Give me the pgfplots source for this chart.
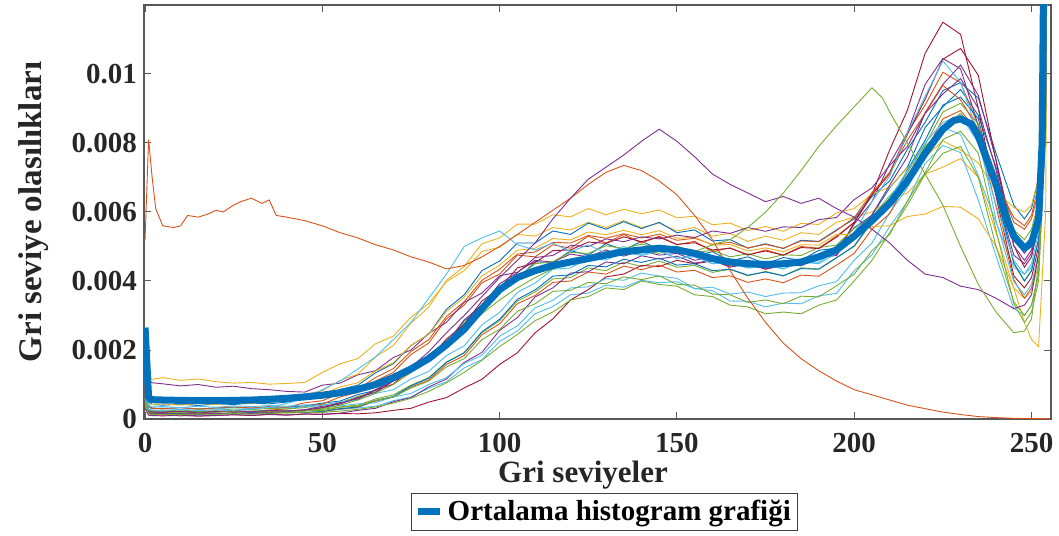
\documentclass[border=0pt]{standalone}
\usepackage{fontspec}
\setmainfont{Liberation Serif}
\usepackage{pgfplots}
\pgfplotsset{compat=1.18}
\definecolor{c1}{HTML}{0072BD}
\definecolor{c2}{HTML}{D95319}
\definecolor{c3}{HTML}{EDB120}
\definecolor{c4}{HTML}{7E2F8E}
\definecolor{c5}{HTML}{77AC30}
\definecolor{c6}{HTML}{4DBEEE}
\definecolor{c7}{HTML}{A2142F}
\pgfplotsset{
 indiv/.style={line width=0.45pt},
 meanleg/.style={legend image code/.code={\draw[##1] (0pt,0pt) -- (11pt,0pt);}},
}
\begin{document}
\begin{tikzpicture}
\useasboundingbox (-72pt,-58pt) rectangle (457.5pt,209.5pt);
\begin{axis}[
 scale only axis, width=453.5pt, height=207pt,
 xmin=-0.3, xmax=255.5, ymin=0, ymax=120,
 xtick={0,50,100,150,200,250}, xticklabels={0,50,100,150,200,250},
 ytick={0,20,40,60,80,100}, yticklabels={0,0.002,0.004,0.006,0.008,0.01},
 tick align=inside, major tick length=3.5pt,
 axis line style={draw=black!65, line width=0.6pt},
 tick style={draw=black!65, line width=0.5pt},
 ticklabel style={font=\fontsize{14.5}{15}\selectfont\bfseries, text=black!85},
 xticklabel style={yshift=-3.5pt},
 xlabel={Gri seviyeler}, ylabel={Gri seviye olasılıkları},
 xlabel style={font=\fontsize{15.5}{16}\selectfont\bfseries, text=black!85, at={(axis description cs:0.484,-0.135)}, anchor=center},
 ylabel style={font=\fontsize{16.5}{17}\selectfont\bfseries, text=black!85, at={(axis description cs:-0.1215,0.5)}, anchor=center},
 legend style={at={(axis description cs:0.508,-0.2246)}, anchor=center, draw=black!75, line width=0.5pt, font=\fontsize{14.5}{15}\selectfont\bfseries, inner sep=1.5pt},
 legend cell align=left,
]
% ---- individual histograms (units of 1e-4) ----
\addplot[indiv,c1,forget plot] coordinates {(0,20)(1,4)(2,3.2)(5,3)(10,3.3)(15,2.9)(20,3.2)(25,3.4)(30,3.1)(35,3.5)(40,3.4)(45,3.8)(50,4.6)(55,5.2)(60,7.1)(65,8.3)(70,11.5)(75,13.8)(80,18.6)(85,21.5)(90,28.5)(95,31.8)(100,38.2)(105,40.5)(110,45.6)(115,45.2)(120,48.8)(125,47.5)(130,50.8)(135,49)(140,51.5)(145,49.2)(150,50)(155,47.2)(160,48.5)(165,45.8)(170,47)(175,45)(180,46.8)(185,46)(190,48.9)(195,49.5)(200,55.5)(205,59)(210,67)(215,73)(220,84.5)(225,90.5)(230,95.5)(235,88)(240,73)(245,54.5)(248,50)(250,53)(252,62)(254,105)(255,250)};
\addplot[indiv,c2,forget plot] coordinates {(0,10)(1,2.5)(2,2)(5,2.1)(10,1.8)(15,2.2)(20,2)(25,2.4)(30,2.2)(35,2.6)(40,2.9)(45,3.7)(50,4.3)(55,6.4)(60,7.7)(65,11)(70,13.5)(75,18.7)(80,22)(85,29)(90,33)(95,39.5)(100,42)(105,47.5)(110,47)(115,50.5)(120,49.5)(125,53)(130,51)(135,53.5)(140,51)(145,53)(150,50.5)(155,51.5)(160,48.5)(165,49.6)(170,47.5)(175,49)(180,47.5)(185,50)(190,49.5)(195,53)(200,57)(205,65.5)(210,71.5)(215,83)(220,91)(225,100.5)(230,97.5)(235,85)(240,70.5)(245,57)(248,55)(250,58)(252,66)(254,110)(255,250)};
\addplot[indiv,c3,forget plot] coordinates {(0,12)(1,12.5)(2,11.5)(5,12)(10,11.2)(15,11.6)(20,10.8)(25,10.4)(30,10.6)(35,10.1)(40,10.3)(45,10.6)(50,13.5)(55,16)(60,17.5)(65,21.8)(70,24)(75,29.5)(80,33.5)(85,39.8)(90,43)(95,48.5)(100,49.8)(105,53.5)(110,53)(115,55.5)(120,54.8)(125,57)(130,55.5)(135,57.5)(140,55.5)(145,56.8)(150,54.5)(155,55.5)(160,53)(165,53.8)(170,51.5)(175,53)(180,51.8)(185,54)(190,53.5)(195,57)(200,58.5)(205,60)(210,63.5)(215,65.5)(220,71)(225,73)(230,75.5)(235,70)(240,54)(245,38)(248,35)(250,37)(252,45)(254,90)(255,250)};
\addplot[indiv,c4,forget plot] coordinates {(0,15)(1,11)(2,10.5)(5,10.2)(10,9.6)(15,10)(20,9.2)(25,9.5)(30,8.8)(35,8.5)(40,8)(45,7.8)(50,9.8)(55,10.4)(60,12.8)(65,14)(70,17.8)(75,20)(80,24.8)(85,28)(90,33.8)(95,36.5)(100,41.5)(105,42.5)(110,46)(115,45.5)(120,47.8)(125,47)(130,49)(135,47.2)(140,48.8)(145,47.5)(150,48)(155,46)(160,47)(165,45)(170,46)(175,44.5)(180,45.8)(185,45.5)(190,47.8)(195,48.5)(200,56.5)(205,63)(210,74)(215,83)(220,97)(225,104.5)(230,101.5)(235,85)(240,65.5)(245,47.5)(248,45)(250,48)(252,57)(254,100)(255,250)};
\addplot[indiv,c5,forget plot] coordinates {(0,8)(1,2)(2,1.8)(5,1.9)(10,2.1)(15,1.8)(20,2.2)(25,2)(30,2.3)(35,2.1)(40,2.5)(45,2.4)(50,2.8)(55,3.5)(60,4)(65,5.8)(70,7)(75,9.8)(80,12)(85,16.5)(90,19.2)(95,25)(100,28.5)(105,34.2)(110,36.8)(115,40.6)(120,41)(125,43.8)(130,43)(135,45.5)(140,44.2)(145,45.8)(150,44)(155,44.5)(160,42.5)(165,43.4)(170,41.5)(175,42.8)(180,41.5)(185,43.8)(190,43.5)(195,46.8)(200,50)(205,57)(210,61.5)(215,71.5)(220,79.5)(225,89)(230,91.5)(235,85.5)(240,65)(245,45)(248,40)(250,43)(252,52)(254,95)(255,250)};
\addplot[indiv,c6,forget plot] coordinates {(0,6)(1,2.4)(2,2.1)(5,2.2)(10,1.9)(15,2.3)(20,2.1)(25,2.4)(30,2.2)(35,2.5)(40,2.3)(45,2.6)(50,2.5)(55,2.8)(60,3.2)(65,3.7)(70,5.3)(75,6.4)(80,8.9)(85,10.8)(90,14.8)(95,17.2)(100,22.5)(105,25.5)(110,30.5)(115,32.6)(120,36)(125,36.5)(130,38.8)(135,38.2)(140,40.2)(145,39.5)(150,39.8)(155,37.8)(160,38.2)(165,36.2)(170,36.8)(175,35.5)(180,36.5)(185,36.6)(190,38.6)(195,39.8)(200,46)(205,51)(210,59.8)(215,67)(220,78.5)(225,84.5)(230,82.5)(235,70.5)(240,57)(245,44)(248,42)(250,44)(252,52)(254,95)(255,250)};
\addplot[indiv,c7,forget plot] coordinates {(0,4)(1,1.2)(2,1)(5,0.9)(10,1.1)(15,0.8)(20,1)(25,1.2)(30,1)(35,1.3)(40,1.1)(45,1.4)(50,1.3)(55,1.6)(60,1.5)(65,1.8)(70,2.5)(75,3.1)(80,4.9)(85,6.2)(90,9)(95,11.5)(100,15.8)(105,19.2)(110,25)(115,29)(120,34.5)(125,37.5)(130,41.2)(135,42)(140,44.5)(145,44.2)(150,46)(155,45)(160,45.8)(165,44.3)(170,45)(175,43.5)(180,44.5)(185,44.6)(190,46.8)(195,47.5)(200,57)(205,65)(210,78)(215,89.5)(220,106)(225,115)(230,111.5)(235,90)(240,64.5)(245,41.5)(248,38)(250,41)(252,50)(254,95)(255,250)};
\addplot[indiv,c1,forget plot] coordinates {(0,25)(1,5)(2,4.2)(5,4)(10,4.3)(15,3.9)(20,4.4)(25,4.2)(30,4.6)(35,4.4)(40,4.9)(45,5.8)(50,6.3)(55,8.6)(60,9.8)(65,13.4)(70,16)(75,21.3)(80,24.6)(85,31.8)(90,36)(95,43)(100,45.8)(105,51)(110,51)(115,54.5)(120,53.5)(125,56.8)(130,55)(135,57.2)(140,55.2)(145,57)(150,54)(155,54.8)(160,51.6)(165,52)(170,49.5)(175,50.8)(180,49.4)(185,51.8)(190,51.5)(195,54.8)(200,58)(205,64.5)(210,69)(215,78.2)(220,86)(225,95.2)(230,97.5)(235,93)(240,77)(245,62)(248,58)(250,61)(252,70)(254,115)(255,250)};
\addplot[indiv,c2,forget plot] coordinates {(0,5)(1,1.7)(2,1.5)(5,1.4)(10,1.6)(15,1.3)(20,1.6)(25,1.5)(30,1.8)(35,1.6)(40,1.9)(45,1.8)(50,2.1)(55,2.9)(60,3.4)(65,5.2)(70,6.3)(75,9.2)(80,11.3)(85,15.8)(90,18.4)(95,24.4)(100,27.6)(105,33.4)(110,35.8)(115,39.6)(120,40)(125,42.6)(130,42)(135,44.3)(140,43.3)(145,44.6)(150,42.6)(155,43.1)(160,41)(165,41.5)(170,39.6)(175,40.6)(180,39.5)(185,41.7)(190,41.4)(195,44.6)(200,48)(205,55)(210,59.5)(215,69.2)(220,77.3)(225,87)(230,89.4)(235,83)(240,61.5)(245,40.4)(248,35)(250,38)(252,47)(254,90)(255,250)};
\addplot[indiv,c3,forget plot] coordinates {(0,9)(1,4.5)(2,4.2)(5,4.4)(10,4)(15,4.5)(20,4.2)(25,4.7)(30,4.5)(35,5)(40,5.5)(45,7.1)(50,8.2)(55,11.2)(60,13)(65,18)(70,21.3)(75,27.8)(80,32.4)(85,40.2)(90,44.2)(95,50.8)(100,52.5)(105,56.5)(110,56.5)(115,59.2)(120,58.6)(125,61)(130,59.2)(135,60.8)(140,59.5)(145,60.6)(150,58.3)(155,58.8)(160,56.3)(165,56.8)(170,54.6)(175,55.8)(180,54.4)(185,56.7)(190,56.4)(195,59.7)(200,61)(205,65.2)(210,67.2)(215,72.8)(220,76)(225,80.6)(230,78)(235,74.2)(240,66)(245,61.3)(248,60)(250,62)(252,70)(254,115)(255,250)};
\addplot[indiv,c4,forget plot] coordinates {(0,3)(1,1.1)(2,1)(5,1.2)(10,0.9)(15,1.1)(20,1)(25,1.3)(30,1.1)(35,1.4)(40,1.2)(45,1.5)(50,1.4)(55,1.7)(60,2.5)(65,3.1)(70,5)(75,6.2)(80,9.3)(85,11.6)(90,16.4)(95,19.3)(100,25.7)(105,29.4)(110,35.4)(115,38)(120,42.3)(125,42.7)(130,45.5)(135,45)(140,47.3)(145,46.4)(150,47.2)(155,45.2)(160,46)(165,44)(170,45)(175,43.4)(180,44.7)(185,44.4)(190,46.8)(195,47.4)(200,54.2)(205,59.2)(210,67.8)(215,76)(220,88.8)(225,97)(230,102.6)(235,93.8)(240,75.2)(245,52.4)(248,48)(250,51)(252,60)(254,105)(255,250)};
\addplot[indiv,c5,forget plot] coordinates {(0,7)(1,2.8)(2,2.5)(5,2.6)(10,2.3)(15,2.7)(20,2.5)(25,2.9)(30,2.7)(35,3.1)(40,2.9)(45,3.3)(50,4.1)(55,4.7)(60,6.6)(65,7.9)(70,11)(75,13.5)(80,18.3)(85,21.5)(90,27.9)(95,31.8)(100,37.9)(105,41)(110,45)(115,45.6)(120,48.3)(125,48)(130,50.2)(135,49.4)(140,50.7)(145,49.5)(150,50.1)(155,48.2)(160,48.9)(165,47)(170,47.9)(175,46.4)(180,47.6)(185,47.4)(190,49.7)(195,50.4)(200,55.3)(205,58.5)(210,64.7)(215,70)(220,79)(225,84.4)(230,88.6)(235,82.4)(240,70.2)(245,54.8)(248,52)(250,55)(252,63)(254,108)(255,250)};
\addplot[indiv,c6,forget plot] coordinates {(0,11)(1,3.3)(2,3)(5,3.2)(10,2.8)(15,3.1)(20,2.9)(25,3.3)(30,3.1)(35,3.4)(40,3.2)(45,3.6)(50,3.4)(55,3.8)(60,4.4)(65,4.7)(70,6.4)(75,7.4)(80,10)(85,12)(90,16.1)(95,18.5)(100,24)(105,27)(110,32.2)(115,34.4)(120,38)(125,38.3)(130,40.7)(135,40.2)(140,42.3)(145,41.4)(150,40.8)(155,37.8)(160,37.2)(165,34.2)(170,34.1)(175,32.5)(180,33.6)(185,33.4)(190,35.7)(195,36.4)(200,43)(205,47.6)(210,55.8)(215,63)(220,74)(225,79.3)(230,77.2)(235,63.4)(240,47.2)(245,32)(248,30)(250,33)(252,42)(254,85)(255,250)};
\addplot[indiv,c7,forget plot] coordinates {(0,5)(1,2.3)(2,2)(5,1.9)(10,2.2)(15,1.8)(20,2.1)(25,2.3)(30,2)(35,2.4)(40,2.2)(45,2.6)(50,3.3)(55,4.8)(60,5.7)(65,8.4)(70,10.1)(75,14.6)(80,17.4)(85,23.2)(90,27.4)(95,34.2)(100,37.8)(105,43.8)(110,45.3)(115,48.8)(120,49)(125,51.3)(130,50.9)(135,52.8)(140,51.4)(145,52.7)(150,50.6)(155,51.1)(160,49)(165,49.5)(170,47.6)(175,48.7)(180,47.5)(185,49.7)(190,49.4)(195,52.7)(200,57)(205,65)(210,71)(215,82.5)(220,92.7)(225,104.3)(230,107.4)(235,99.6)(240,74.8)(245,50.3)(248,44)(250,47)(252,56)(254,100)(255,250)};
\addplot[indiv,c1,forget plot] coordinates {(0,14)(1,1.9)(2,1.6)(5,1.5)(10,1.7)(15,1.4)(20,1.7)(25,1.6)(30,1.9)(35,1.7)(40,2)(45,1.9)(50,2.2)(55,3)(60,3.5)(65,5.4)(70,6.5)(75,9.6)(80,11.8)(85,16.4)(90,19.2)(95,25.3)(100,28.9)(105,34.7)(110,37.4)(115,41.4)(120,41.8)(125,44.5)(130,44.1)(135,46.3)(140,45.4)(145,46.6)(150,44.6)(155,45)(160,43)(165,43.4)(170,41.7)(175,42.6)(180,41.5)(185,43.6)(190,43.4)(195,46.7)(200,50.2)(205,57.3)(210,62.2)(215,72.2)(220,80.8)(225,91)(230,93.3)(235,87.1)(240,65.8)(245,45.3)(248,40)(250,43)(252,52)(254,95)(255,250)};
\addplot[indiv,c2,forget plot] coordinates {(0,8)(1,3.4)(2,3.1)(5,3)(10,3.3)(15,2.9)(20,3.2)(25,3.5)(30,3.2)(35,3.6)(40,3.4)(45,4.7)(50,5.3)(55,7.4)(60,8.7)(65,12)(70,14.6)(75,19.6)(80,23)(85,29.7)(90,34)(95,40.2)(100,43.4)(105,47.8)(110,48.4)(115,51.2)(120,51)(125,53.2)(130,52.4)(135,53.7)(140,52.5)(145,53.6)(150,51.8)(155,52.4)(160,50.6)(165,51.2)(170,49.6)(175,50.6)(180,49.5)(185,51.6)(190,51.4)(195,54.6)(200,58.4)(205,65.6)(210,71)(215,80.8)(220,88.6)(225,96.7)(230,92.5)(235,84)(240,68.5)(245,58.4)(248,56)(250,59)(252,68)(254,112)(255,250)};
\addplot[indiv,c3,forget plot] coordinates {(0,10)(1,5.5)(2,5.2)(5,5.4)(10,5)(15,5.5)(20,5.2)(25,5.6)(30,5.3)(35,5.7)(40,5.5)(45,6.8)(50,7.2)(55,9.3)(60,10.5)(65,13.9)(70,16.3)(75,21.4)(80,24.5)(85,31.2)(90,35.3)(95,41.5)(100,44.6)(105,48.9)(110,49.5)(115,52.3)(120,51.9)(125,54.2)(130,53.4)(135,54.7)(140,53.4)(145,54.6)(150,52.4)(155,52.7)(160,50.4)(165,50.6)(170,48.7)(175,49.6)(180,48.5)(185,50.5)(190,50.4)(195,53.5)(200,53.5)(205,55.8)(210,56)(215,58.7)(220,59.4)(225,61.6)(230,61.4)(235,58)(240,50)(245,38)(248,28)(250,23)(252,21)(254,60)(255,250)};
\addplot[indiv,c5,forget plot] coordinates {(0,6)(1,2.2)(2,2)(5,2.1)(10,1.8)(15,2.2)(20,2)(25,2.3)(30,2.1)(35,2.4)(40,2.2)(45,2.5)(50,2.4)(55,3.4)(60,3.7)(65,5.4)(70,6.4)(75,9)(80,11)(85,15.1)(90,17.5)(95,23)(100,26)(105,31.2)(110,33.4)(115,37)(120,37.3)(125,39.6)(130,39.2)(135,41.2)(140,40.4)(145,41.5)(150,39)(155,38.8)(160,36.2)(165,36)(170,33.8)(175,34.5)(180,33.4)(185,35.6)(190,35.4)(195,38.6)(200,42)(205,48.8)(210,53.5)(215,63.2)(220,71.4)(225,81)(230,83.4)(235,77)(240,54.7)(245,33.5)(248,28)(250,31)(252,40)(254,85)(255,250)};
\addplot[indiv,c4,forget plot] coordinates {(0,9)(1,2.4)(2,2.1)(5,2)(10,2.3)(15,1.9)(20,2.2)(25,2.4)(30,2.1)(35,2.5)(40,2.3)(45,2.7)(50,3.7)(55,4.3)(60,6.3)(65,7.7)(70,11)(75,13.5)(80,18.6)(85,22)(90,28.7)(95,33)(100,39.2)(105,42.4)(110,46.8)(115,47.4)(120,50.3)(125,50)(130,52.2)(135,51.4)(140,52.8)(145,52.2)(150,53.3)(155,52.6)(160,54.5)(165,53.8)(170,55.5)(175,54.4)(180,55.7)(185,55.5)(190,57.8)(195,58.4)(200,63.6)(205,67)(210,73.5)(215,79)(220,88.6)(225,94.2)(230,98.7)(235,90)(240,72.2)(245,50.2)(248,46)(250,49)(252,58)(254,102)(255,250)};
\addplot[indiv,c6,forget plot] coordinates {(0,16)(1,3.8)(2,3.5)(5,3.6)(10,3.3)(15,3.7)(20,3.4)(25,3.8)(30,3.6)(35,3.9)(40,3.7)(45,4.1)(50,3.9)(55,5)(60,5.5)(65,7.4)(70,8.5)(75,11.6)(80,13.8)(85,18.4)(90,21.2)(95,27.3)(100,30.9)(105,36.7)(110,39.4)(115,43.4)(120,43.8)(125,46.5)(130,46.1)(135,48.3)(140,47.4)(145,48.6)(150,46.6)(155,47)(160,45)(165,45.4)(170,43.7)(175,44.6)(180,43.5)(185,45.6)(190,45.4)(195,48.7)(200,54)(205,63)(210,70.4)(215,83)(220,93.5)(225,103.8)(230,97.6)(235,82.4)(240,57.5)(245,39.8)(248,36)(250,39)(252,48)(254,92)(255,250)};
\addplot[indiv,c6,forget plot] coordinates {(0,7)(1,2.8)(2,2.6)(5,2.5)(10,2.8)(15,2.4)(20,2.7)(25,2.5)(30,2.9)(35,3.4)(40,4.5)(45,6)(50,8.5)(55,11)(60,14.5)(65,18)(70,23)(75,28)(80,35)(85,42)(90,50)(95,52.5)(100,54.5)(105,50.5)(110,49)(115,51)(120,48.5)(125,50.5)(130,48)(135,50)(140,47.5)(145,49)(150,46.5)(155,47.5)(160,45)(165,46)(170,44)(175,45)(180,43.5)(185,45.5)(190,45)(195,48)(200,52)(205,58)(210,64)(215,72)(220,80)(225,86)(230,88)(235,80)(240,62)(245,46)(248,42)(250,45)(252,54)(254,98)(255,250)};
\addplot[indiv,c5,forget plot] coordinates {(0,5)(1,1.8)(2,1.5)(5,1.6)(10,1.3)(15,1.7)(20,1.5)(25,1.8)(30,1.6)(35,1.9)(40,1.7)(45,2)(50,1.9)(55,2.3)(60,2.8)(65,3.5)(70,4.6)(75,6)(80,8)(85,10.5)(90,13.5)(95,17)(100,21)(105,24.5)(110,28.5)(115,31)(120,34.5)(125,35.5)(130,38)(135,37.5)(140,40)(145,39)(150,38.5)(155,36)(160,35.5)(165,33)(170,32.5)(175,30.5)(180,31)(185,30.5)(190,33)(195,34.5)(200,40)(205,46)(210,54)(215,62)(220,71)(225,77)(230,79)(235,70)(240,50)(245,34)(248,30)(250,33)(252,42)(254,85)(255,250)};
% outliers
\addplot[indiv,c2,forget plot] coordinates {(0,52)(1,81)(2,70)(3,61)(5,56)(8,55.5)(10,56)(12,59)(15,58.5)(18,59.5)(20,60.5)(22,60)(25,62)(27,63)(30,64)(33,62.5)(35,63.5)(37,59)(40,58.5)(45,57.5)(50,56)(55,54)(60,52.5)(65,50.5)(70,49)(75,47)(80,45.5)(85,43.5)(90,44.5)(95,47)(100,50)(105,53.5)(110,57)(115,60.5)(120,64)(125,68)(130,71.5)(135,73.5)(140,72)(145,69)(150,65)(155,59)(160,52)(165,43)(170,35)(175,28)(180,22)(185,17.5)(190,14)(195,11)(200,8.5)(205,7)(210,5.5)(215,4)(220,3)(225,2)(230,1.3)(235,0.7)(240,0.4)(245,0.2)(250,0.1)(255,0.1)};
\addplot[indiv,c4,forget plot] coordinates {(0,3)(1,1.8)(2,1.5)(5,1.6)(10,1.4)(15,1.7)(20,1.5)(25,1.8)(30,1.6)(35,1.9)(40,2.1)(45,2.5)(50,3.2)(55,4.5)(60,6)(65,8.5)(70,11)(75,15)(80,19.5)(85,25)(90,30)(95,35.5)(100,41)(105,46)(110,51)(115,58)(120,64)(125,69.5)(130,73)(135,76.5)(140,80.5)(145,84)(150,80.5)(155,76)(160,71)(165,68)(170,65.5)(175,63)(180,64.5)(185,62.5)(190,64)(195,61)(200,58.5)(205,55)(210,51)(215,46)(220,42)(225,41)(230,38.5)(235,37.5)(240,35)(245,32)(248,33)(250,36)(252,48)(254,90)(255,250)};
\addplot[indiv,c5,forget plot] coordinates {(0,4)(1,1.5)(2,1.3)(5,1.4)(10,1.2)(15,1.5)(20,1.3)(25,1.6)(30,1.4)(35,1.7)(40,1.9)(45,2.3)(50,3)(55,4)(60,5.5)(65,7.5)(70,10)(75,13.5)(80,17)(85,21.5)(90,26)(95,30.5)(100,34.5)(105,38)(110,41)(115,43.5)(120,45.5)(125,47)(130,48.5)(135,47.5)(140,49)(145,48)(150,49.5)(155,48.5)(160,50.5)(165,52)(170,55.5)(175,60)(180,65.5)(185,72)(190,79)(195,85)(200,90.5)(205,96)(208,93)(210,89)(215,80)(220,71)(225,62)(230,50)(235,39)(240,31)(245,25)(248,25.5)(250,29)(252,45)(254,95)(255,250)};
% mean histogram
\addplot[c1, line width=3.5pt, line join=round, meanleg] coordinates {(0,26.5)(1,6.2)(2,5.6)(5,5.5)(10,5.4)(15,5.3)(20,5.3)(25,5.4)(30,5.5)(35,5.7)(40,6)(45,6.4)(50,6.9)(55,7.6)(60,8.6)(65,10)(70,12)(75,14.5)(80,17.5)(85,21.5)(90,26)(95,32)(100,37.5)(105,41)(110,43)(115,44.5)(120,45.5)(125,46.5)(130,47.5)(135,48.5)(140,49)(145,49.5)(150,49)(155,48)(160,46.5)(165,45.5)(170,45)(175,44.8)(180,45)(185,45.5)(190,47)(195,49)(200,53)(205,57.5)(210,62.5)(215,69)(220,77)(225,84)(228,86.5)(230,87)(233,85.5)(235,82)(240,68)(243,58)(245,53)(248,49.5)(250,51)(252,58)(253,80)(254,200)};
\addlegendentry{Ortalama histogram grafiği}
\end{axis}
\end{tikzpicture}
\end{document}
